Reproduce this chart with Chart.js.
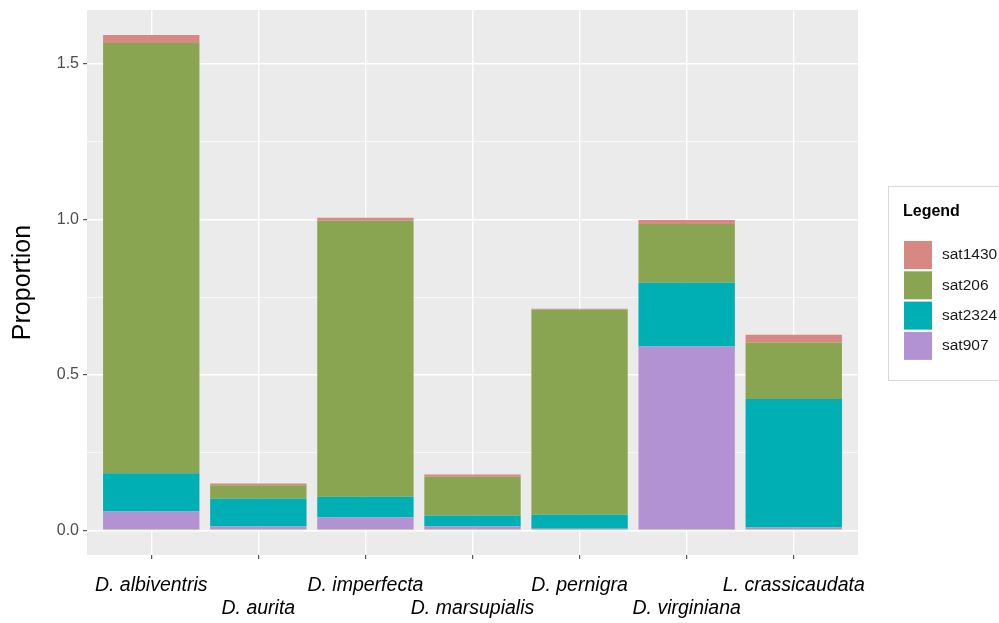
<!DOCTYPE html>
<html>
<head>
<meta charset="utf-8">
<script src="https://cdn.jsdelivr.net/npm/chart.js@4/dist/chart.umd.min.js"></script>
<style>
  html, body { margin: 0; padding: 0; background: #fff; }
  #wrap { width: 999px; height: 623px; }
</style>
</head>
<body>
<div id="wrap"><canvas id="chart" width="999" height="623"></canvas></div>
<script>
// ====== DATA ======
const species = ["D. albiventris", "D. aurita", "D. imperfecta", "D. marsupialis",
                 "D. pernigra", "D. virginiana", "L. crassicaudata"];
const sat907  = [0.060, 0.012, 0.041, 0.012, 0.005, 0.591, 0.009];
const sat2324 = [0.123, 0.089, 0.067, 0.035, 0.045, 0.205, 0.413];
const sat206  = [1.384, 0.044, 0.887, 0.125, 0.660, 0.189, 0.182];
const sat1430 = [0.026, 0.005, 0.010, 0.007, 0.002, 0.013, 0.025];
const yTicks = [0, 0.25, 0.5, 0.75, 1.0, 1.25, 1.5];

// ====== COLORS ======
const colors = {
  sat1430: "#D88883",
  sat206: "#8AA552",
  sat2324: "#00AFB4",
  sat907: "#B392D4"
};

function toPoints(arr) {
  return arr.map((v, i) => ({ x: i + 1, y: v }));
}

// stack order bottom -> top
const series = [
  { label: "sat907", data: sat907 },
  { label: "sat2324", data: sat2324 },
  { label: "sat206", data: sat206 },
  { label: "sat1430", data: sat1430 }
];

// ====== PLUGINS ======
const panelBg = {
  id: "panelBg",
  beforeDraw(chart) {
    const { ctx, chartArea: a } = chart;
    ctx.save();
    ctx.fillStyle = "#EBEBEB";
    ctx.fillRect(a.left, a.top, a.right - a.left, a.bottom - a.top);
    ctx.restore();
  }
};

const ggLegend = {
  id: "ggLegend",
  afterDraw(chart) {
    const ctx = chart.ctx;
    ctx.save();
    ctx.strokeStyle = "#D9D9D9";
    ctx.lineWidth = 1;
    ctx.strokeRect(888.5, 186.5, 130, 194);
    ctx.fillStyle = "#000";
    ctx.font = "bold 16px 'Liberation Sans', Arial, sans-serif";
    ctx.textBaseline = "middle";
    ctx.fillText("Legend", 903, 212);
    const items = series.slice().reverse();
    items.forEach((s, i) => {
      const y = 241 + i * 30.3;
      ctx.fillStyle = colors[s.label];
      ctx.fillRect(904, y, 28, 28);
      ctx.fillStyle = "#1A1A1A";
      ctx.font = "15.5px 'Liberation Sans', Arial, sans-serif";
      ctx.fillText(s.label, 942, y + 14);
    });
    ctx.restore();
  }
};

// ====== CHART ======
const ctx = document.getElementById("chart").getContext("2d");
new Chart(ctx, {
  type: "bar",
  data: {
    datasets: series.map(s => ({
      label: s.label,
      data: toPoints(s.data),
      backgroundColor: colors[s.label],
      borderWidth: 0,
      stack: "all",
      barPercentage: 1,
      categoryPercentage: 0.9
    }))
  },
  options: {
    responsive: false,
    animation: false,
    layout: { padding: { left: 0, top: 10, right: 141, bottom: 0 } },
    plugins: {
      legend: { display: false },
      tooltip: { enabled: false }
    },
    scales: {
      x: {
        type: "linear",
        min: 0.4,
        max: 7.6,
        offset: false,
        afterBuildTicks(scale) {
          scale.ticks = species.map((_, i) => ({ value: i + 1 }));
        },
        afterFit(scale) { scale.height = 68; scale.paddingLeft = 0; scale.paddingRight = 0; },
        border: { display: false },
        grid: {
          offset: false,
          color: "#FFFFFF",
          lineWidth: 1.4,
          tickColor: "#333333",
          tickLength: 4,
          tickWidth: 1
        },
        ticks: {
          autoSkip: false,
          maxRotation: 0,
          padding: 15,
          color: "#000",
          font: { family: "'Liberation Sans', Arial, sans-serif", size: 19.5, style: "italic", lineHeight: 1.18 },
          callback(value) {
            const i = Math.round(value) - 1;
            return i % 2 === 0 ? [species[i], ""] : ["", species[i]];
          }
        }
      },
      y: {
        stacked: true,
        min: -0.0797,
        max: 1.673,
        afterBuildTicks(scale) {
          scale.ticks = yTicks.map(v => ({ value: v }));
        },
        afterFit(scale) { scale.width = 87; scale.paddingTop = 0; scale.paddingBottom = 0; },
        border: { display: false },
        grid: {
          color: "#FFFFFF",
          lineWidth: c => (c.tick && c.tick.value % 0.5 === 0 ? 1.4 : 0.6),
          tickColor: c => (c.tick && c.tick.value % 0.5 === 0 ? "#333333" : "rgba(0,0,0,0)"),
          tickLength: 4,
          tickWidth: 1
        },
        title: {
          display: true,
          text: "Proportion",
          color: "#000",
          font: { family: "'Liberation Sans', Arial, sans-serif", size: 25 },
          padding: { top: 8, bottom: 6 }
        },
        ticks: {
          padding: 4,
          color: "#4D4D4D",
          font: { family: "'Liberation Sans', Arial, sans-serif", size: 16 },
          callback(value) {
            return value % 0.5 === 0 ? value.toFixed(1) : "";
          }
        }
      }
    }
  },
  plugins: [panelBg, ggLegend]
});
</script>
</body>
</html>
